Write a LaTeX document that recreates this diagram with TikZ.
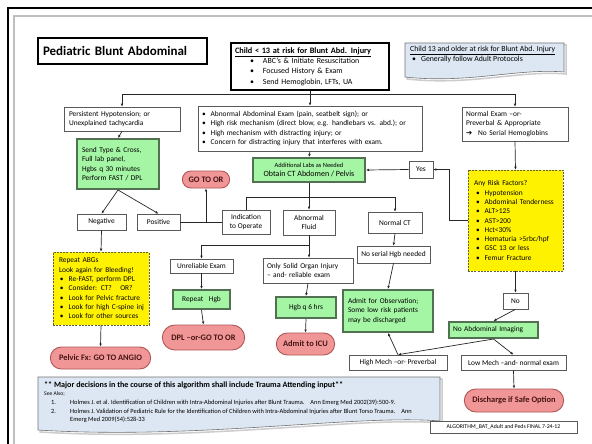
\documentclass[tikz,border=0pt]{standalone}
\usepackage{fontspec}
\setmainfont{Carlito}
\newfontfamily\arrowfont{DejaVu Sans}
\usetikzlibrary{shapes.misc, arrows.meta}
\definecolor{boxgreen}{RGB}{164,245,164}
\definecolor{greenline}{RGB}{82,112,82}
\definecolor{boxred}{RGB}{240,150,150}
\definecolor{redline}{RGB}{175,85,85}
\definecolor{redtext}{RGB}{70,20,20}
\definecolor{boxblue}{RGB}{221,231,243}
\definecolor{yellowline}{RGB}{95,95,60}
\newcommand{\bul}{\textbullet\hspace{5pt}}

\begin{document}
\begin{tikzpicture}[x=1pt, y=-1pt,
        font=\fontsize{7.4}{9.3}\selectfont,
        box/.style = {draw=black!65, fill=white, line width=0.6pt,
            inner xsep=5pt, inner ysep=1pt},
        greenbox/.style = {box, draw=greenline, fill=boxgreen, line width=2pt},
        redbox/.style = {rounded rectangle, draw=redline, fill=boxred,
            line width=0.9pt, text=redtext,
            font=\fontsize{8.4}{9}\selectfont\bfseries},
        riskbox/.style = {box, draw=yellowline, fill=yellow,
            dash pattern=on 2pt off 1.2pt},
        docbox/.style = {draw=black!55, fill=boxblue, line width=0.6pt},
        arr/.style = {-{Latex[length=3pt,width=2.6pt]}, line width=0.7pt, black!85},
        link/.style = {line width=0.7pt, black!85}]

        \useasboundingbox (0,0) rectangle (592,444);

        % Page
        \fill[white] (0,0) rectangle (592,444);
        \draw[black!25, line width=1.5pt] (14,460) -- (14,16) -- (600,16);
        \draw[black, line width=2.4pt] (8,450) -- (8,8) -- (600,8);

        % Title
        \node[box, draw=black, line width=1.6pt, minimum width=169pt,
              minimum height=26pt, text width=159pt, align=left,
              font=\fontsize{13}{14}\selectfont\bfseries] (title) at (122.5,51)
              {Pediatric Blunt Abdominal};

        % Start
        \node[box, draw=black, line width=1.6pt, minimum width=158pt,
              minimum height=47pt, text width=150pt, align=left, inner xsep=4pt,
              font=\fontsize{7.9}{10.4}\selectfont] (child) at (310,66.5)
              {{\fontsize{8.3}{10.4}\selectfont\bfseries\underline{Child < 13 at risk for Blunt Abd. Injury}}\\
               \hspace*{15pt}\textbullet\hspace{9pt}ABC’s \& Initiate Resuscitation\\
               \hspace*{15pt}\textbullet\hspace{9pt}Focused History \& Exam\\
               \hspace*{15pt}\textbullet\hspace{9pt}Send Hemoglobin, LFTs, UA};

        % Older children
        \draw[black!20, line width=1.5pt] (407,45) -- (566,45) -- (566,74)
              .. controls (520,70) and (470,86) .. (407,79) -- cycle;
        \draw[docbox] (405,43) -- (564,43) -- (564,72)
              .. controls (518,68) and (468,84) .. (405,77) -- cycle;
        \node[anchor=north west, align=left, inner sep=0pt,
              font=\fontsize{7.8}{10}\selectfont] (older) at (410,46)
              {\underline{Child 13 and older at risk for Blunt Abd. Injury}\\
               \hspace*{2pt}\bul Generally follow Adult Protocols};

        % Three branches
        \node[box, minimum width=116pt, minimum height=24pt, text width=106pt,
              align=left] (persist) at (122,119)
              {Persistent Hypotension; or\\Unexplained tachycardia};
        \node[box, minimum width=224pt, minimum height=45pt, text width=216pt,
              align=left, inner xsep=4pt] (abnexam) at (310,128.5)
              {\bul Abnormal Abdominal Exam (pain, seatbelt sign); or\\
               \bul High risk mechanism (direct blow, e.g. handlebars vs. abd.); or\\
               \bul High mechanism with distracting injury; or\\
               \bul Concern for distracting injury that interferes with exam.};
        \node[box, minimum width=106pt, minimum height=34pt, text width=98pt,
              align=left, inner xsep=4pt] (normexam) at (515,124)
              {Normal Exam –or-\\Preverbal \& Appropriate\\
               {\arrowfont\fontsize{7.4}{9.3}\selectfont ➔}\hspace{6pt}No Serial Hemoglobins};

        \coordinate (split) at (310,94);
        \draw[link] (child.south) -- (split);
        \draw[arr] (split) -| (persist.north);
        \draw[arr] (split) -- (abnexam.north);
        \draw[arr] (split) -| (normexam.north);

        % Unstable
        \node[greenbox, minimum width=82pt, minimum height=50pt, text width=72pt,
              align=left] (sendtype) at (118,164)
              {Send Type \& Cross,\\Full lab panel,\\Hgbs q 30 minutes\\Perform FAST / DPL};
        \node[redbox, minimum width=54pt, minimum height=17pt] (goor) at (206,179.5) {GO TO OR};
        \node[box, minimum width=49pt, minimum height=16pt] (neg) at (101.5,222) {Negative};
        \node[box, minimum width=43pt, minimum height=16pt] (pos) at (158.5,222) {Positive};
        \node[riskbox, minimum width=96pt, minimum height=73pt, text width=90pt,
              align=left, inner xsep=3pt] (abgs) at (101,288.5)
              {\hspace*{3pt}Repeat ABGs\\\hspace*{3pt}Look again for Bleeding!\\
               \hspace*{4pt}\bul Re-FAST, perform DPL\\
               \hspace*{4pt}\bul Consider: CT?\hspace{6pt} OR?\\
               \hspace*{4pt}\bul Look for Pelvic fracture\\
               \hspace*{4pt}\bul Look for high C-spine inj\\
               \hspace*{4pt}\bul Look for other sources};
        \node[redbox, minimum width=107pt, minimum height=22pt] (pelvic) at (100.5,358)
              {Pelvic Fx: GO TO ANGIO};

        \draw[arr] (persist.south) -- (sendtype.north);
        \draw[arr] (sendtype.south) -- (neg.north);
        \draw[arr] (sendtype.south) -- (pos.north);
        \draw[arr] (neg.south) -- (abgs.north);
        \draw[arr] (abgs.south) -- (pelvic.north);

        % CT
        \node[greenbox, minimum width=112pt, minimum height=24pt, align=center,
              font=\fontsize{8}{9}\selectfont] (ctlabs) at (309,170)
              {{\fontsize{6.4}{8}\selectfont Additional Labs as Needed}\\Obtain CT Abdomen / Pelvis};
        \node[box, minimum width=24pt, minimum height=17pt, inner xsep=2pt] (yes) at (421,169.5) {Yes};
        \node[box, minimum width=48pt, minimum height=24pt, align=center,
              inner xsep=2pt] (indic) at (246,222) {Indication\\to Operate};
        \node[box, minimum width=52pt, minimum height=25pt, align=center] (abnfluid) at (309,222.5)
              {Abnormal\\Fluid};
        \node[box, minimum width=54pt, minimum height=21pt] (normct) at (395,222.5) {Normal CT};

        \draw[arr] (abnexam.south) -- (ctlabs.north);
        \draw[arr] (yes.west) -- (ctlabs.east);
        \coordinate (ctsplit) at (309,197);
        \draw[link] (ctlabs.south) -- (ctsplit);
        \draw[link] (ctsplit) -| (indic.north);
        \draw[arr] (ctsplit) -- (abnfluid.north);
        \draw[arr] (ctsplit) -| (normct.north);

        \coordinate (orsplit) at (206,222);
        \draw[link] (pos.east) -- (indic.west);
        \draw[arr] (orsplit) -- (goor.south);

        % Abnormal fluid
        \node[box, minimum width=63pt, minimum height=14pt, inner xsep=2pt] (unrel) at (201.5,266)
              {Unreliable Exam};
        \node[box, minimum width=90pt, minimum height=25pt, text width=82pt,
              align=left, inner xsep=4pt] (solid) at (308,270.5)
              {Only Solid Organ Injury\\– and- reliable exam};
        \node[greenbox, minimum width=57pt, minimum height=19pt] (rpthgb) at (201.5,299.5)
              {Repeat\hspace{4pt} Hgb};
        \node[greenbox, minimum width=60pt, minimum height=21pt] (hgbsix) at (306,307.5)
              {Hgb q 6 hrs};
        \node[redbox, minimum width=89pt, minimum height=25pt] (dpl) at (203.5,337.5)
              {DPL –or-GO TO OR};
        \node[redbox, minimum width=65pt, minimum height=22pt] (icu) at (305.5,344)
              {Admit to ICU};

        \coordinate (fluidsplit) at (309,245);
        \draw[link] (abnfluid.south) -- (fluidsplit);
        \draw[arr] (fluidsplit) -| (unrel.north);
        \draw[arr] (fluidsplit) -- (solid.north -| fluidsplit);
        \draw[arr] (unrel.south) -- (rpthgb.north);
        \draw[arr] (rpthgb.south) -- (dpl.north);
        \draw[arr] (solid.south) -- (hgbsix.north);
        \draw[arr] (hgbsix.south) -- (icu.north);

        % Normal CT
        \node[box, minimum width=73pt, minimum height=17pt, inner xsep=2pt] (noserial) at (393.5,254.5)
              {No serial Hgb needed};
        \node[greenbox, minimum width=90pt, minimum height=42pt, text width=80pt,
              align=left] (admitobs) at (388,311)
              {Admit for Observation;\\Some low risk patients\\may be discharged};

        \draw[arr] (normct.south) -- (noserial.north);
        \draw[arr] (noserial.south) -- (admitobs.north);

        % Risk factors
        \node[riskbox, minimum width=95pt, minimum height=101pt, text width=89pt,
              align=left, inner xsep=3pt] (risk) at (515.5,220.5)
              {\hspace*{3pt}Any Risk Factors?\\
               \hspace*{5pt}\bul Hypotension\\
               \hspace*{5pt}\bul Abdominal Tenderness\\
               \hspace*{5pt}\bul ALT>125\\
               \hspace*{5pt}\bul AST>200\\
               \hspace*{5pt}\bul Hct<30\%\\
               \hspace*{5pt}\bul Hematuria >5rbc/hpf\\
               \hspace*{5pt}\bul GSC 13 or less\\
               \hspace*{5pt}\bul Femur Fracture};
        \node[box, minimum width=25pt, minimum height=16pt, inner xsep=2pt] (no) at (515.5,301) {No};
        \node[greenbox, minimum width=89pt, minimum height=16pt, text width=81pt,
              align=left, inner xsep=4pt] (noimg) at (493.5,330) {No Abdominal Imaging};
        \node[box, minimum width=98pt, minimum height=15pt, inner xsep=2pt] (highmech) at (398,362.5)
              {High Mech –or- Preverbal};
        \node[box, minimum width=105pt, minimum height=15pt, inner xsep=2pt] (lowmech) at (513.5,362.5)
              {Low Mech –and- normal exam};
        \node[redbox, minimum width=106pt, minimum height=23pt] (discharge) at (514,400.5)
              {Discharge if Safe Option};

        \draw[arr] (normexam.south) -- (risk.north);
        \draw[arr] (risk.west) -- ++(-18,0) |- (yes.east);
        \draw[arr] (risk.south) -- (no.north);
        \draw[arr] (no.south) -- (noimg.north);
        \draw[arr] (noimg.south) -- (highmech.north);
        \draw[arr] (noimg.south) -- (lowmech.north);
        \draw[arr] (highmech.north) -- (admitobs.south);
        \draw[arr] (lowmech.south) -- (discharge.north);

        % Footer
        \draw[black!20, line width=1.5pt] (40,379) -- (442,379) -- (442,423)
              .. controls (360,416) and (200,442) .. (40,432) -- cycle;
        \draw[docbox] (38,377) -- (440,377) -- (440,421)
              .. controls (358,414) and (198,440) .. (38,430) -- cycle;
        \begin{scope}
            \clip (38,377) -- (440,377) -- (440,421)
                  .. controls (358,414) and (198,440) .. (38,430) -- cycle;
            \node[anchor=base west, inner sep=0pt, font=\fontsize{8.1}{9}\selectfont\bfseries]
                  (major) at (44,387.5) {** Major decisions in the course of this algorithm shall include Trauma Attending input**};
            \node[anchor=base west, inner sep=0pt, font=\fontsize{5.6}{6}\selectfont]
                  (seealso) at (44,395.5) {See Also;};
            \node[anchor=base west, inner sep=0pt, font=\fontsize{6.4}{7}\selectfont]
                  (refone) at (51,404.5) {\makebox[19pt][l]{1.}Holmes J. et al. Identification of Children with Intra-Abdominal Injuries after Blunt Trauma.\hspace{4pt} Ann Emerg Med 2002(39):500-9.};
            \node[anchor=base west, inner sep=0pt, font=\fontsize{6.4}{7}\selectfont]
                  (reftwo) at (51,413) {\makebox[19pt][l]{2.}Holmes J. Validation of Pediatric Rule for the Identification of Children with Intra-Abdominal Injuries after Blunt Torso Trauma.\hspace{4pt} Ann};
            \node[anchor=base west, inner sep=0pt, font=\fontsize{6.4}{7}\selectfont]
                  (refthree) at (70,421.5) {Emerg Med 2009(54):528-33};
        \end{scope}

        \node[box, minimum width=147pt, minimum height=12pt, inner xsep=2pt,
              font=\fontsize{5.8}{6}\selectfont] (algo) at (503.5,427)
              {ALGORITHM\_BAT\_Adult and Peds FINAL 7-24-12};

\end{tikzpicture}
\end{document}
